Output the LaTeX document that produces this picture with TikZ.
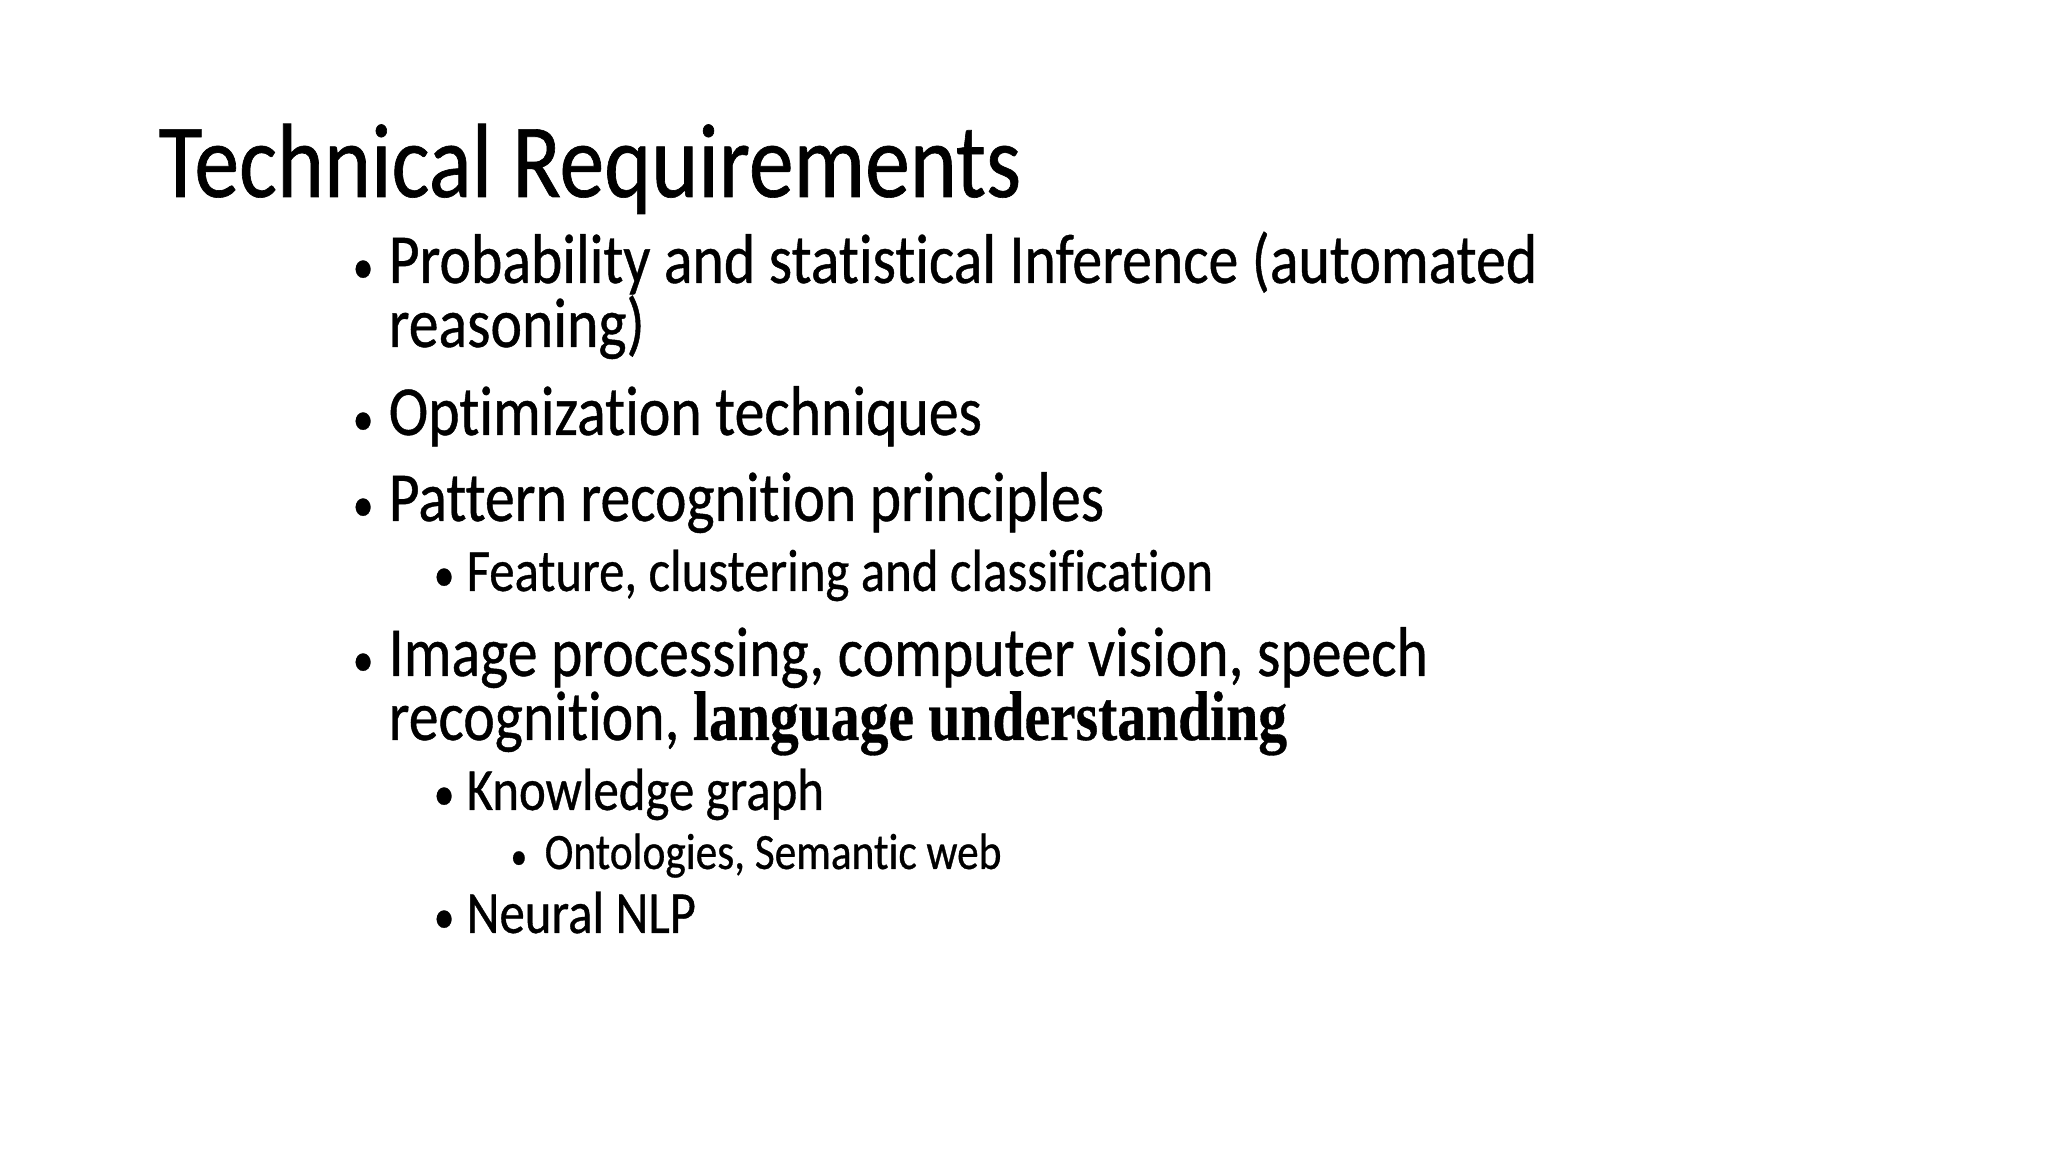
\documentclass[tikz,border=0pt]{standalone}
\usepackage{fontspec}
\setmainfont{Carlito}
\newfontfamily\nf[FakeStretch=0.85,FakeBold=0.6,Ligatures=NoCommon]{Carlito}
\newfontfamily\serifbold[FakeStretch=0.82,FakeBold=0.5]{Liberation Serif Bold}
\newcommand{\bul}{{\fontsize{14pt}{14pt}\selectfont •}}
\begin{document}
\begin{tikzpicture}[x=1cm,y=1cm,
  t/.style={anchor=base west,inner sep=0pt,font=\nf\fontsize{30pt}{30pt}\selectfont},
  a/.style={anchor=base west,inner sep=0pt,font=\nf\fontsize{20pt}{20pt}\selectfont},
  b/.style={anchor=base west,inner sep=0pt,font=\nf\fontsize{17pt}{17pt}\selectfont},
  c/.style={anchor=base west,inner sep=0pt,font=\nf\fontsize{14.5pt}{14.5pt}\selectfont}]
\useasboundingbox[fill=white] (0,0) rectangle (20.48,11.52);
\node[t] (title) at (1.58,9.55) {Technical Requirements};
\node[a] (b1) at (3.52,8.69) {\bul};
\node[a] (l1) at (3.88,8.69) {Probability and statistical Inference (automated};
\node[a] (l1b) at (3.88,8.05) {reasoning)};
\node[a] (b2) at (3.52,7.17) {\bul};
\node[a] (l2) at (3.88,7.17) {Optimization techniques};
\node[a] (b3) at (3.52,6.31) {\bul};
\node[a] (l3) at (3.88,6.31) {Pattern recognition principles};
\node[b] (b31) at (4.33,5.61) {\bul};
\node[b] (l31) at (4.66,5.61) {Feature, clustering and classification};
\node[a] (b4) at (3.52,4.76) {\bul};
\node[a] (l4) at (3.88,4.76) {Image processing, computer vision, speech};
\node[a] (l4b) at (3.88,4.12) {recognition, {\serifbold\fontsize{20pt}{20pt}\selectfont language understanding}};
\node[b] (b41) at (4.33,3.42) {\bul};
\node[b] (l41) at (4.66,3.42) {Knowledge graph};
\node[c] (b411) at (5.10,2.83) {{\fontsize{11pt}{11pt}\selectfont •}};
\node[c] (l411) at (5.44,2.83) {Ontologies, Semantic web};
\node[b] (b42) at (4.33,2.19) {\bul};
\node[b] (l42) at (4.66,2.19) {Neural NLP};
\end{tikzpicture}
\end{document}
